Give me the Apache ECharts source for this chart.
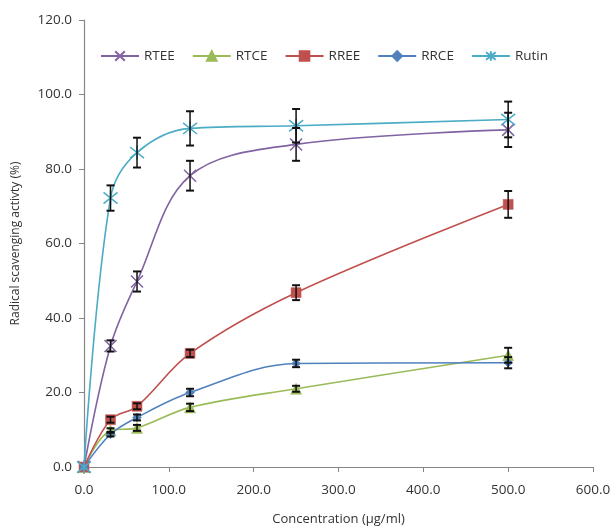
<!DOCTYPE html>
<html>
<head>
<meta charset="utf-8">
<script src="https://cdn.jsdelivr.net/npm/echarts@6/dist/echarts.min.js"></script>
<style>html,body{margin:0;padding:0;background:#fff}#c{width:616px;height:531px}</style>
</head>
<body>
<div id="c"></div>
<script>
// Data
var concentrations = [0, 31.25, 62.5, 125, 250, 500];
var seriesNames = ['RTEE', 'RTCE', 'RREE', 'RRCE', 'Rutin'];
var rteeValues  = [0, 32.5, 49.8, 78.2, 86.6, 90.5];
var rteeErrors  = [0, 1.5, 2.7, 4.0, 4.4, 4.6];
var rtceValues  = [0, 9.8, 10.5, 16.0, 21.0, 30.0];
var rtceErrors  = [0, 0.6, 0.8, 1.0, 0.8, 2.0];
var rreeValues  = [0, 12.7, 16.3, 30.5, 46.8, 70.5];
var rreeErrors  = [0, 0.8, 0.8, 1.0, 2.0, 3.6];
var rrceValues  = [0, 8.8, 13.3, 20.0, 27.8, 28.0];
var rrceErrors  = [0, 0.6, 0.8, 1.0, 1.0, 1.5];
var rutinValues = [0, 72.2, 84.4, 90.9, 91.6, 93.3];
var rutinErrors = [0, 3.4, 4.0, 4.6, 4.5, 4.8];
var xTicks = [0, 100, 200, 300, 400, 500, 600];
var yTicks = [0, 20, 40, 60, 80, 100, 120];

var allValues = [rteeValues, rtceValues, rreeValues, rrceValues, rutinValues];
var allErrors = [rteeErrors, rtceErrors, rreeErrors, rrceErrors, rutinErrors];
var colors = ['#8064A2', '#9BBB59', '#C0504D', '#4F81BD', '#4BACC6'];
var symbols = [
  'path://M0,0L10,10M10,0L0,10',
  'triangle',
  'rect',
  'diamond',
  'path://M1,1L9,9M9,1L1,9M5,0L5,10'
];
var symbolSizes = [12, 11, 10, 9, 14];

function pairs(vals) {
  return concentrations.map(function (x, i) { return [x, vals[i]]; });
}

var series = [];
seriesNames.forEach(function (name, k) {
  series.push({
    name: name,
    type: 'line',
    smooth: 0.35,
    data: pairs(allValues[k]),
    symbol: symbols[k],
    symbolSize: symbolSizes[k],
    showAllSymbol: true,
    lineStyle: { color: colors[k], width: 1.6 },
    itemStyle: { color: colors[k], borderColor: colors[k], borderWidth: (k === 0 || k === 4) ? 1.5 : 0.5 },
    z: 2
  });
});

var errData = [];
allValues.forEach(function (vals, k) {
  vals.forEach(function (v, i) {
    if (allErrors[k][i] > 0) errData.push([concentrations[i], v, allErrors[k][i]]);
  });
});

series.push({
  type: 'custom',
  name: 'err',
  z: 5,
  silent: true,
  data: errData,
  renderItem: function (params, api) {
    var x = api.value(0), y = api.value(1), e = api.value(2);
    var top = api.coord([x, y + e]);
    var bot = api.coord([x, y - e]);
    var w = 4;
    var st = { stroke: '#111', lineWidth: 1.5 };
    return {
      type: 'group',
      children: [
        { type: 'line', shape: { x1: top[0], y1: top[1], x2: bot[0], y2: bot[1] }, style: st },
        { type: 'line', shape: { x1: top[0] - w, y1: top[1], x2: top[0] + w, y2: top[1] }, style: { stroke: '#111', lineWidth: 2 } },
        { type: 'line', shape: { x1: bot[0] - w, y1: bot[1], x2: bot[0] + w, y2: bot[1] }, style: { stroke: '#111', lineWidth: 2 } }
      ]
    };
  }
});

var chart = echarts.init(document.getElementById('c'));
chart.setOption({
  animation: false,
  backgroundColor: '#fff',
  textStyle: { fontFamily: 'Open Sans' },
  grid: { left: 84, right: 23, top: 20, bottom: 59 },
  legend: {
    data: seriesNames,
    left: 95, top: 44,
    itemWidth: 38, itemHeight: 12, itemGap: 17,
    textStyle: { fontFamily: 'Open Sans', fontSize: 13.5, color: '#333', padding: [0, 0, 0, 0] }
  },
  xAxis: {
    type: 'value',
    min: xTicks[0], max: xTicks[xTicks.length - 1], interval: 100,
    name: 'Concentration (µg/ml)',
    nameLocation: 'middle', nameGap: 46,
    nameTextStyle: { fontFamily: 'Open Sans', fontSize: 13, color: '#333' },
    axisLine: { lineStyle: { color: '#868686', width: 1.2 } },
    axisTick: { show: true, inside: false, length: 5, lineStyle: { color: '#868686' } },
    axisLabel: { fontSize: 13.5, color: '#333', margin: 16, formatter: function (v) { return v.toFixed(1); } },
    splitLine: { show: false }
  },
  yAxis: {
    type: 'value',
    min: yTicks[0], max: yTicks[yTicks.length - 1], interval: 20,
    name: 'Radical scavenging activty (%)',
    nameLocation: 'middle', nameGap: 62,
    nameTextStyle: { fontFamily: 'Open Sans', fontSize: 12, color: '#333' },
    axisLine: { show: true, lineStyle: { color: '#868686', width: 1.2 } },
    axisTick: { show: true, inside: false, length: 5, lineStyle: { color: '#868686' } },
    axisLabel: { fontSize: 13.5, color: '#333', margin: 12, formatter: function (v) { return v.toFixed(1); } },
    splitLine: { show: false }
  },
  series: series
});
</script>
</body>
</html>
